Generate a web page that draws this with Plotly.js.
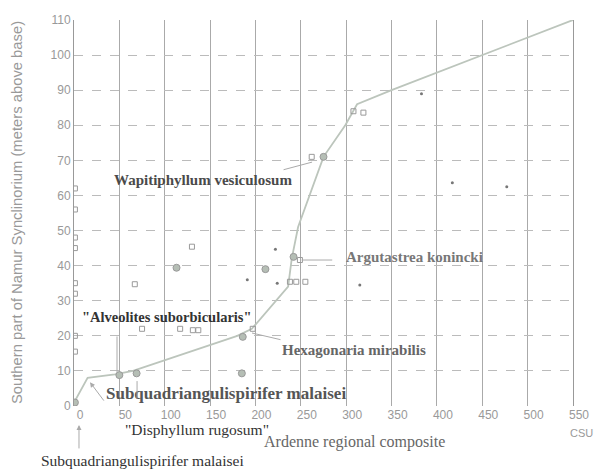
<!DOCTYPE html>
<html>
<head>
<meta charset="utf-8">
<script src="https://cdn.plot.ly/plotly-3.0.1.min.js"></script>
<style>html,body{margin:0;padding:0;background:#fff;}#chart{width:601px;height:470px;}</style>
</head>
<body>
<div id="chart"></div>
<script>
// Line of correlation (Ardenne composite vs Namur section)
const lineX = [0, 15, 45, 65, 180, 196, 236, 238, 240, 247, 275, 299, 312, 350, 450, 550];
const lineY = [1, 8, 9, 10, 20, 22, 34, 39, 42, 51, 71, 80, 86, 90, 100, 110];

// Open squares
const squareX = [1, 1, 1, 1, 1, 1, 1, 1, 67, 130, 75, 117, 131, 137, 197, 238, 245, 255, 249, 262, 308, 319];
const squareY = [62, 56, 48, 45, 35, 32, 20, 15.5, 34.7, 45.4, 22, 22, 21.6, 21.6, 22, 35.4, 35.4, 35.4, 41.6, 71, 84, 83.6];

// Filled circles
const circleX = [1, 113, 50, 69, 185, 186, 211, 275, 242];
const circleY = [1, 39.4, 8.8, 9.3, 9.3, 19.7, 39, 71, 42.5];

// Small dots
const dotX = [222, 191, 224, 315, 383, 417, 477];
const dotY = [44.7, 36, 35, 34.5, 89, 63.6, 62.5];

const xTicks = [0, 50, 100, 150, 200, 250, 300, 350, 400, 450, 500, 550];
const yTicks = [0, 10, 20, 30, 40, 50, 60, 70, 80, 90, 100, 110];

const traces = [
  {x: lineX, y: lineY, mode: 'lines', line: {color: '#bcc5bc', width: 1.8}, hoverinfo: 'skip'},
  {x: squareX, y: squareY, mode: 'markers', marker: {symbol: 'square-open', size: 5, color: '#9a9a9a', line: {width: 1}}},
  {x: circleX, y: circleY, mode: 'markers', marker: {symbol: 'circle', size: 7, color: '#b5beb5', line: {color: '#999', width: 1}}},
  {x: dotX, y: dotY, mode: 'markers', marker: {symbol: 'circle', size: 3, color: '#777'}}
];

const serif = 'Liberation Serif, serif';
const lead = '#aaa';
function label(text, x, y, size, color, xref, yref) {
  return {text: text, x: x, y: y, xref: xref || 'x', yref: yref || 'y', showarrow: false,
    font: {family: serif, size: size, color: color}, xanchor: 'center', yanchor: 'middle'};
}
function leader(x, y, ax, ay, head, yref) {
  return {text: '', x: x, y: y, xref: 'x', yref: yref || 'y', showarrow: true, ax: ax, ay: ay,
    arrowhead: head, arrowsize: 1, arrowwidth: 1, arrowcolor: lead};
}

const annotations = [
  label('<b>Wapitiphyllum vesiculosum</b>', 142, 64.4, 15, '#4a4a4a'),
  label('<b>Argutastrea konincki</b>', 375, 42.5, 15, '#777'),
  label('<b>"Alveolites suborbicularis"</b>', 103, 25.4, 14.5, '#333'),
  label('<b>Hexagonaria mirabilis</b>', 309, 16, 15, '#666'),
  label('<b>Subquadriangulispirifer malaisei</b>', 168, 3.7, 17, '#555'),
  label('"Disphyllum rugosum"', 136, -0.062, 15.5, '#333', 'x', 'paper'),
  label('Ardenne regional composite', 309, -0.093, 16, '#666', 'x', 'paper'),
  label('Subquadriangulispirifer malaisei', 76, -0.14, 15.5, '#333', 'x', 'paper'),
  {text: 'CSU', x: 1.018, y: -0.07, xref: 'paper', yref: 'paper', xanchor: 'center', yanchor: 'middle',
    showarrow: false, font: {family: 'Liberation Sans Narrow, Liberation Sans, sans-serif', size: 11, color: '#999'}},
  {text: 'Southern part of Namur Synclinorium (meters above base)', x: -0.114, y: 0.5,
    xref: 'paper', yref: 'paper', xanchor: 'center', yanchor: 'middle', showarrow: false, textangle: -90,
    font: {family: 'Liberation Sans, sans-serif', size: 14.8, color: '#999'}},
  leader(262.4, 69.5, -30, 8, 0),
  leader(251, 41.6, 32, 0, 0),
  leader(47.4, 9.7, 0, -37, 0),
  leader(196.2, 20.8, 30, 7, 0),
  leader(17.6, 6.8, 15, 20, 2),
  leader(69.5, 7.1, 0, 19, 0),
  leader(5.5, -0.049, 0, 25, 2, 'paper')
];

const tickFont = {family: 'Liberation Sans Narrow, Liberation Sans, sans-serif', size: 12, color: '#999'};

const layout = {
  width: 601, height: 470,
  margin: {l: 74, r: 28, t: 20, b: 64},
  paper_bgcolor: '#fff', plot_bgcolor: '#fff',
  showlegend: false,
  xaxis: {range: [0, 550], tickvals: xTicks, ticktext: xTicks.map(String), showgrid: true,
    gridcolor: '#aaa', gridwidth: 1, zeroline: false, showline: false, ticks: '',
    tickfont: tickFont, ticklabelshift: 6, fixedrange: true},
  yaxis: {range: [0, 110], tickvals: yTicks, ticktext: yTicks.map(String), showgrid: true,
    gridcolor: '#bbbbbb', griddash: 'dash', gridwidth: 1, zeroline: false,
    showline: true, mirror: true, linecolor: '#999', linewidth: 1, ticks: '',
    tickfont: tickFont, fixedrange: true},
  annotations: annotations
};

Plotly.newPlot('chart', traces, layout, {displayModeBar: false, staticPlot: true});
</script>
</body>
</html>
